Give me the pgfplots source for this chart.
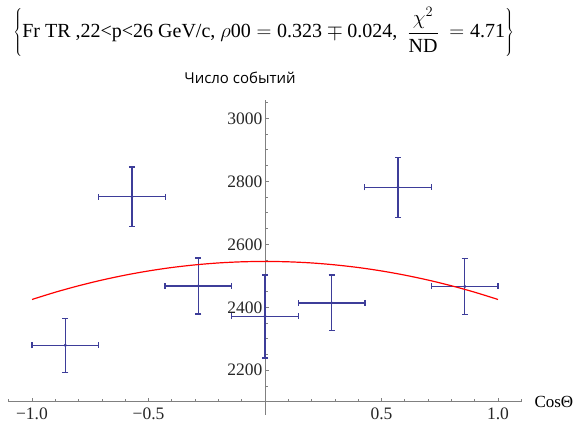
\documentclass[border=0pt]{standalone}
\usepackage{pgfplots}
\pgfplotsset{compat=1.18}
\usepackage{fontspec}
\setmainfont{Liberation Serif}
\newfontfamily\cyrsans{Open Sans}
\definecolor{ebar}{RGB}{61,61,153}
\definecolor{axgray}{RGB}{128,128,128}
\begin{document}
\begin{tikzpicture}[x=1bp,y=1bp]
\begin{axis}[
  at={(0,0)}, anchor=south west,
  scale only axis, width=512.6bp, height=302.2bp,
  xmin=-1.1, xmax=1.1, ymin=2100, ymax=3060,
  axis x line=bottom, axis y line=middle,
  axis line style={axgray, line width=0.8bp, -},
  tick align=inside,
  major tick length=4bp, minor tick length=2.5bp,
  every tick/.style={axgray, line width=0.8bp},
  xtick={-1,-0.5,0.5,1}, xticklabels={−1.0,−0.5,0.5,1.0},
  minor xtick={-1.1,-0.9,-0.8,-0.7,-0.6,-0.4,-0.3,-0.2,-0.1,0,0.1,0.2,0.3,0.4,0.6,0.7,0.8,0.9,1.1},
  ytick={2200,2400,2600,2800,3000}, yticklabels={2200,2400,2600,2800,3000},
  minor ytick={2150,2250,2300,2350,2450,2500,2550,2650,2700,2750,2850,2900,2950,3050},
  ticklabel style={font=\fontsize{17.5bp}{19bp}\selectfont, text=black!85},
  xticklabel style={yshift=-3bp},
  yticklabel style={xshift=1bp},
  clip=false,
]
\addplot[ebar, only marks, mark=*, mark size=1.4bp,
  mark options={ebar},
  error bars/.cd, x dir=both, x explicit, y dir=both, y explicit,
  error mark=|,
  error bar style={line width=1.4bp, ebar},
  error mark options={ebar, mark size=3bp, line width=1.4bp}]
  table[x=x, y=y, x error=ex, y error=ey] {
x       y     ex     ey
-0.857  2279  0.143  86
-0.571  2751  0.143  94
-0.286  2468  0.143  89
 0.000  2371  0.143  132
 0.286  2414  0.143  88
 0.571  2781  0.143  95
 0.857  2466  0.143  89
};
\addplot[red, line width=1.2bp, smooth, no marks] coordinates {
(-1.0,2424.8) (-0.9,2447.8) (-0.8,2468.3) (-0.7,2486.4) (-0.6,2502.1)
(-0.5,2515.4) (-0.4,2526.3) (-0.3,2534.7) (-0.2,2540.8) (-0.1,2544.4)
(0.0,2545.6) (0.1,2544.4) (0.2,2540.8) (0.3,2534.7) (0.4,2526.3)
(0.5,2515.4) (0.6,2502.1) (0.7,2486.4) (0.8,2468.3) (0.9,2447.8) (1.0,2424.8)
};
\end{axis}
\draw[axgray, line width=0.8bp] (256.3,0) -- (256.3,-13.3);
\node[font=\fontsize{20bp}{22bp}\selectfont] at (255,369.7)
  {$\displaystyle\left\{\mbox{Fr TR ,22<p<26 GeV/c, }\rho\mbox{00} = \mbox{0.323} \mp \mbox{0.024,}\ \ \frac{\chi^2}{\mbox{ND}}\ = \mbox{4.71}\right\}$};
\node[font=\cyrsans\fontsize{15bp}{18bp}\selectfont] at (231.3,323.7) {Число событий};
\node[anchor=west, font=\fontsize{17bp}{18bp}\selectfont] at (522.3,0) {CosΘ};
\pgfresetboundingbox
\path (-8.7,-21.3) rectangle (566.3,401.7);
\end{tikzpicture}
\end{document}
